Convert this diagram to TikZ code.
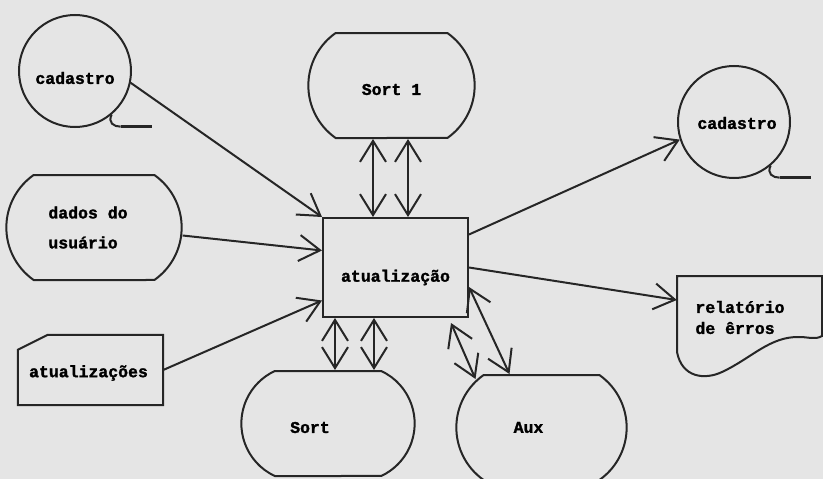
\documentclass[tikz,border=0pt]{standalone}
\usepackage{fontspec}
\newfontfamily\flowfont{Liberation Mono}[BoldFeatures={FakeBold=1.6}]
\usetikzlibrary{shapes.misc,arrows.meta}

\tikzset{
  ink/.style={draw=black!85, line width=2pt},
  term/.style={ink, rounded rectangle, rounded rectangle arc length=110, minimum height=105},
  tape/.style={ink, circle, minimum size=112},
  procbox/.style={ink, rectangle, minimum width=145, minimum height=99},
  cardbox/.style={rectangle, minimum width=145, minimum height=70},
  arr/.style={ink, -{Straight Barb[length=21pt,width=26pt]}},
  dbl/.style={ink, {Straight Barb[length=21pt,width=26pt]}-{Straight Barb[length=21pt,width=26pt]}},
}

\begin{document}
\begin{tikzpicture}[x=1pt, y=-1pt, font=\flowfont\bfseries\fontsize{16.5}{21}\selectfont]
          % paper
          \fill[black!10] (0,0) rectangle (823,479);
          \useasboundingbox (0,0) rectangle (823,479);

          % inputs
          \node[tape, label={[yshift=-7pt]center:cadastro}] (cadIn) at (75,71) {};
          \draw[ink] (cadIn.-50) .. controls +(-4,8) and +(-7,0) .. ++(9,12);
          \draw[ink, line width=3pt] ([shift={(9pt,-12pt)}]cadIn.-50) -- ++(31,0);
          \node[term, minimum width=182, label={[align=left, xshift=-6pt]center:{dados do\\[9pt]usuário}}] (dados) at (94,227.5) {};
          \node[cardbox, label={[xshift=-2pt, yshift=-3pt]center:atualizações}] (card) at (90.5,370) {};
          \draw[ink] (card.south west) -- ([yshift=-15pt]card.north west) -- ([xshift=30pt]card.north west)
                     -- (card.north east) -- (card.south east) -- cycle;

          % process and sort files
          \node[procbox, label={[yshift=-10pt]center:atualização}] (atu) at (395.5,267.5) {};
          \node[term, minimum width=173, label={[yshift=-4pt]center:Sort 1}] (sort1) at (391.5,85.5) {};
          \node[term, minimum width=180, rounded rectangle arc length=130, label={[xshift=-18pt, yshift=-4pt]center:Sort}] (sort) at (328,423.5) {};
          \node[term, minimum width=177, label={[xshift=-13pt]center:Aux}] (aux) at (541.5,427.5) {};

          % outputs
          \node[tape, label={[xshift=3pt, yshift=-1pt]center:cadastro}] (cadOut) at (734,122) {};
          \draw[ink] (cadOut.-50) .. controls +(-4,8) and +(-7,0) .. ++(9,12);
          \draw[ink, line width=3pt] ([shift={(9pt,-12pt)}]cadOut.-50) -- ++(31,0);
          \node[minimum width=145, minimum height=74, label={[align=left, xshift=-9.5pt, yshift=-4.5pt]center:{relatório\\de êrros}}] (rel) at (749.5,313) {};
          \draw[ink] (677,352) -- (677,276) -- (822,276) -- (822,336)
                     .. controls (815,340) and (808,337) .. (800,337)
                     .. controls (770,336) and (752,358) .. (722,372)
                     .. controls (705,380) and (682,378) .. (677,352);

          % flow
          \draw[arr] (cadIn.-12) -- (atu.north west);
          \draw[arr] ([yshift=-8pt]dados.east) -- ([yshift=17pt]atu.west);
          \draw[arr] (card.east) -- ([yshift=-33pt]atu.west);
          \draw[arr] ([yshift=33pt]atu.east) -- (cadOut.198);
          \draw[arr] (atu.east) -- ([yshift=13pt]rel.west);
          \draw[dbl] ([xshift=-18.5pt]sort1.south) -- ([xshift=-22.5pt]atu.north);
          \draw[dbl] ([xshift=16.5pt]sort1.south) -- ([xshift=12.5pt]atu.north);
          \draw[dbl] ([xshift=-60.5pt]atu.south) -- ([xshift=7pt]sort.north);
          \draw[dbl] ([xshift=-21.5pt]atu.south) -- ([xshift=46pt]sort.north);
          \draw[dbl] ([shift={(-18pt,-5pt)}]atu.south east) -- ([shift={(-66pt,-5pt)}]aux.north);
          \draw[dbl] ([yshift=-19.5pt]atu.east) -- ([xshift=-32pt]aux.north);
        \end{tikzpicture}
\end{document}
